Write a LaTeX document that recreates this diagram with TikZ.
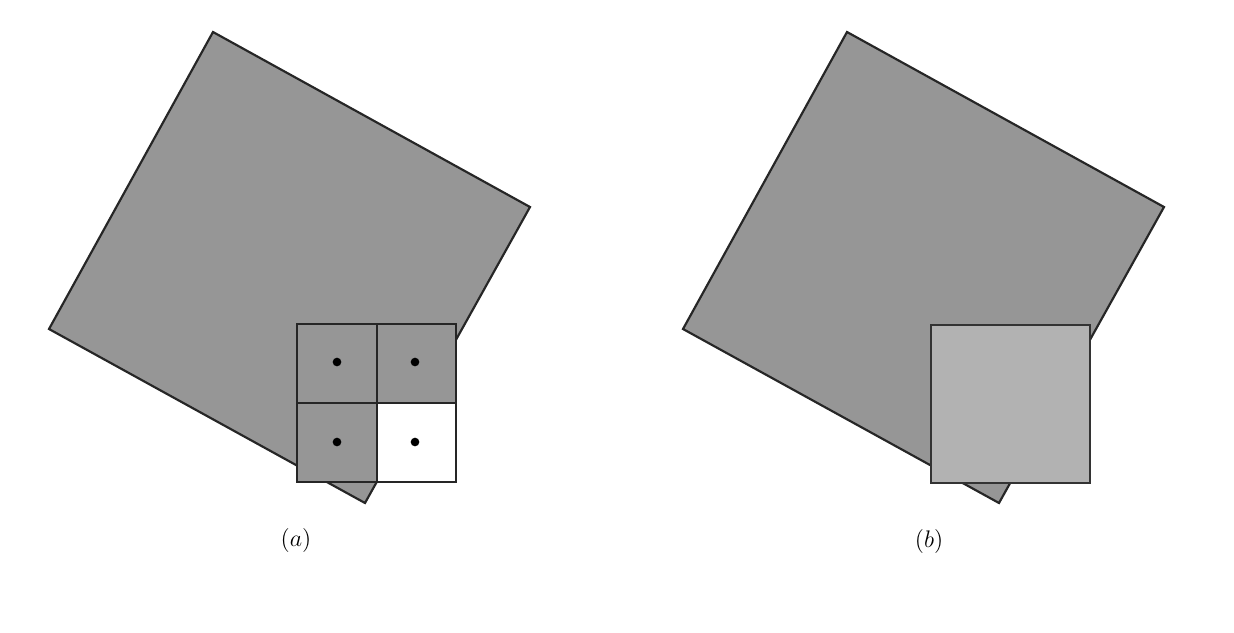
\documentclass[tikz,border=0pt]{standalone}
\usepackage{amsmath}
\usepackage{xcolor}
\usepackage{tikz}
\usetikzlibrary{
    calc,
    positioning
}
\definecolor{darkfill}{RGB}{150,150,150}
\definecolor{lightfill}{RGB}{178,178,178}
\tikzset{
  big/.style = {
      draw=black!85,
      line width=1.3pt,
      line join=miter,
      fill=darkfill
  },
  cell/.style = {
      draw=black!85,
      line width=1.3pt,
      fill=darkfill
  },
  blank/.style = {
      cell,
      fill=white
  },
  patch/.style = {
      draw=black!80,
      line width=1.3pt,
      fill=lightfill
  },
  dot/.style = {
      circle,
      fill=black,
      inner sep=0pt,
      minimum size=5.2pt
  },
  figlabel/.style = {
      font=\fontsize{15}{18}\selectfont
  }
}

\begin{document}
\begin{tikzpicture}[x=0.6pt, y=-0.6pt]
    \useasboundingbox (0,0) rectangle (1234,632);
    % (a)
    \coordinate (TopA) at (213,32);
    \coordinate (RightA) at (530,207);
    \coordinate (BottomA) at (365,503);
    \coordinate (LeftA) at (49,329);
    \draw[big] (TopA) -- (RightA) -- (BottomA) -- (LeftA) -- cycle;
    \draw[cell] (297,324) rectangle (377,403);
    \draw[cell] (377,324) rectangle (456,403);
    \draw[cell] (297,403) rectangle (377,482);
    \draw[blank] (377,403) rectangle (456,482);
    \node[dot] (d1) at (337,362) {};
    \node[dot] (d2) at (415,362) {};
    \node[dot] (d3) at (337,442) {};
    \node[dot] (d4) at (415,442) {};
    \node[figlabel] (capA) at (296,540) {$(a)$};
    % (b)
    \coordinate (TopB) at (847,32);
    \coordinate (RightB) at (1164,207);
    \coordinate (BottomB) at (999,503);
    \coordinate (LeftB) at (683,329);
    \draw[big] (TopB) -- (RightB) -- (BottomB) -- (LeftB) -- cycle;
    \draw[patch] (931,325) rectangle (1090,483);
    \node[figlabel] (capB) at (929,541) {$(b)$};
\end{tikzpicture}
\end{document}
